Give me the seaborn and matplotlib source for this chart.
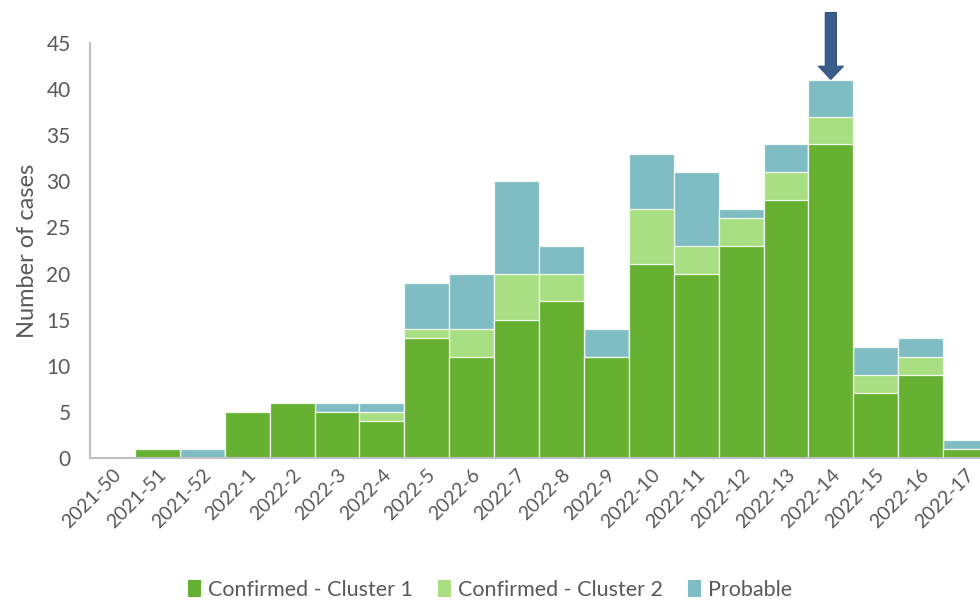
import matplotlib
matplotlib.use("Agg")
import matplotlib.pyplot as plt
from matplotlib.patches import Patch
import seaborn as sns

# weekly case counts
weeks = ["2021-50", "2021-51", "2021-52", "2022-1", "2022-2", "2022-3", "2022-4",
         "2022-5", "2022-6", "2022-7", "2022-8", "2022-9", "2022-10", "2022-11",
         "2022-12", "2022-13", "2022-14", "2022-15", "2022-16", "2022-17"]
cluster1 = [0, 1, 0, 5, 6, 5, 4, 13, 11, 15, 17, 11, 21, 20, 23, 28, 34, 7, 9, 1]
cluster2 = [0, 0, 0, 0, 0, 0, 1, 1, 3, 5, 3, 0, 6, 3, 3, 3, 3, 2, 2, 0]
probable = [0, 0, 1, 0, 0, 1, 1, 5, 6, 10, 3, 3, 6, 8, 1, 3, 4, 3, 2, 1]
series_names = ["Confirmed - Cluster 1", "Confirmed - Cluster 2", "Probable"]
arrow_week = "2022-14"

C1_COLOR = "#66B032"
C2_COLOR = "#A9DF83"
PROB_COLOR = "#7FBDC4"
TEXT = "#595959"

sns.set_style("white")
plt.rcParams["font.family"] = ["Lato", "DejaVu Sans"]

fig = plt.figure(figsize=(9.8, 6.01), dpi=100)
ax = fig.add_axes([90 / 980, 1 - 458 / 601, 898 / 980, 415 / 601])

# stacked look: draw cumulative totals from the top down
top2 = [a + b for a, b in zip(cluster1, cluster2)]
total = [a + b for a, b in zip(top2, probable)]
for vals, col in [(total, PROB_COLOR), (top2, C2_COLOR), (cluster1, C1_COLOR)]:
    sns.barplot(x=weeks, y=vals, color=col, width=1.0, edgecolor="#F4F9F0",
                linewidth=0.9, saturation=1, ax=ax)

ax.set_xlim(-0.5, len(weeks) - 0.5)
ax.set_ylim(0, 45)
ax.set_yticks(range(0, 46, 5))
ax.tick_params(axis="y", labelsize=15, labelcolor=TEXT, length=0, pad=14)
ax.tick_params(axis="x", labelsize=14, labelcolor=TEXT, length=0, pad=6)
plt.setp(ax.get_xticklabels(), rotation=45, ha="right", rotation_mode="anchor")
ax.set_ylabel("Number of cases", fontsize=17, color=TEXT, labelpad=6)
ax.set_xlabel("")

for s in ["top", "right"]:
    ax.spines[s].set_visible(False)
for s in ["left", "bottom"]:
    ax.spines[s].set_color("#BFBFBF")
    ax.spines[s].set_linewidth(1.5)

# arrow marking the peak week
xi = weeks.index(arrow_week)
ax.annotate("", xy=(xi, total[xi] + 0.05), xytext=(xi, 48.3),
            arrowprops=dict(width=8, headwidth=18, headlength=9.5,
                            facecolor="#3A5E8C", edgecolor="#2F4F7A", linewidth=0.8,
                            shrink=0),
            annotation_clip=False)

handles = [Patch(facecolor=c, edgecolor="none") for c in (C1_COLOR, C2_COLOR, PROB_COLOR)]
fig.legend(handles, series_names, loc="center", bbox_to_anchor=(0.5, 1 - 590 / 601),
           ncol=3, frameon=False, fontsize=15.5, labelcolor=TEXT,
           handlelength=0.6, handleheight=0.8, handletextpad=0.3, columnspacing=1.2)

fig.savefig("out.png", dpi=100)
